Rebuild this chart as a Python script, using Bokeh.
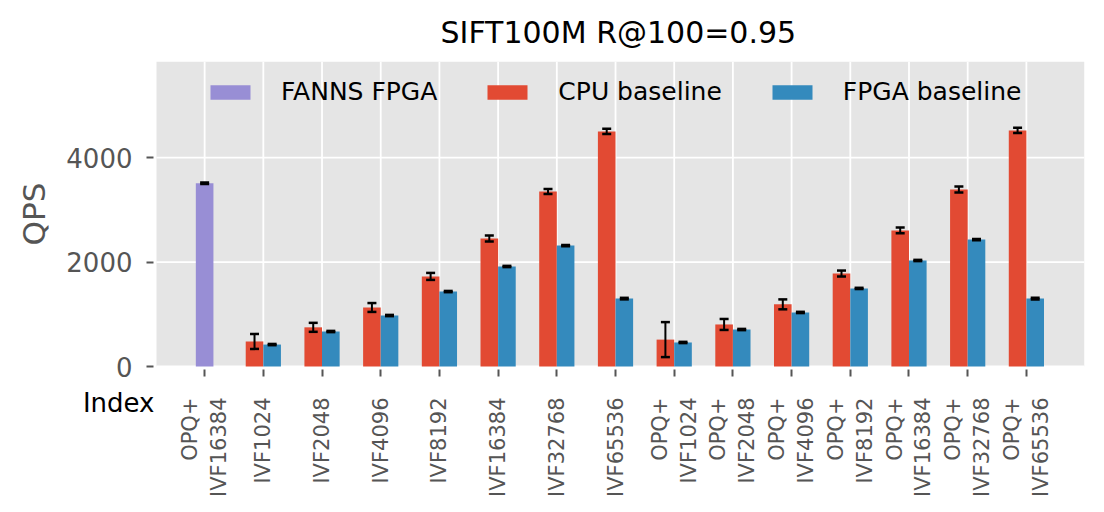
import numpy as np
from bokeh.plotting import figure
from bokeh.models import (ColumnDataSource, Range1d, FixedTicker, Whisker, TeeHead,
                          Legend, LegendItem, Label, BoxAnnotation)
from bokeh.embed import file_html
from bokeh.resources import INLINE

# ---------------- data ----------------
tick_labels = ["OPQ+\nIVF16384", "IVF1024", "IVF2048", "IVF4096", "IVF8192", "IVF16384",
               "IVF32768", "IVF65536", "OPQ+\nIVF1024", "OPQ+\nIVF2048", "OPQ+\nIVF4096",
               "OPQ+\nIVF8192", "OPQ+\nIVF16384", "OPQ+\nIVF32768", "OPQ+\nIVF65536"]

fanns_qps = [3510]
fanns_err = [15]

cpu_qps = [480, 750, 1130, 1725, 2450, 3350, 4500,
           515, 805, 1190, 1780, 2605, 3390, 4520]
cpu_err = [143, 86, 85, 67, 57, 48, 50,
           335, 105, 95, 57, 55, 57, 50]

fpga_qps = [420, 670, 976, 1435, 1915, 2316, 1300,
            460, 708, 1035, 1495, 2030, 2430, 1300]
fpga_err = [12, 12, 12, 12, 12, 12, 15,
            12, 12, 12, 12, 12, 12, 15]

y_ticks = [0, 2000, 4000]
title_text = "SIFT100M R@100=0.95"
x_title = "Index"
y_title = "QPS"
series_names = ["FANNS FPGA", "CPU baseline", "FPGA baseline"]
colors = ["#988ED5", "#E24A33", "#348ABD"]

# ---------------- layout geometry ----------------
FONT = "DejaVu Sans"
n = len(tick_labels)
W, H = 1088, 496
X_LO, X_HI = -0.82, n - 1 + 0.99      # axis limits of the plotting area
Y_LO, Y_HI = 0, 5840
PX_L, PX_R, PX_T, PX_B = 156, 1084, 61, 366   # plotting area in canvas pixels
ux = (X_HI - X_LO) / (PX_R - PX_L)
uy = (Y_HI - Y_LO) / (PX_B - PX_T)
x_range = Range1d(X_LO - PX_L * ux, X_HI)
y_range = Range1d(Y_LO - (H - PX_B) * uy, Y_HI)

p = figure(width=W, height=H, output_backend="svg", toolbar_location=None,
           x_range=x_range, y_range=y_range,
           min_border_left=0, min_border_right=W - PX_R, min_border_top=PX_T, min_border_bottom=0)
p.background_fill_color = "white"
p.border_fill_color = "white"
p.outline_line_color = None
p.xgrid.visible = False
p.ygrid.visible = False

p.title.text = title_text
p.title.align = "left"
p.title.offset = 440
p.title.text_font = FONT
p.title.text_font_size = "30px"
p.title.text_font_style = "normal"
p.title.text_color = "black"
p.title.standoff = 23

# plotting-area background and grid
p.add_layout(BoxAnnotation(left=X_LO, right=X_HI, bottom=Y_LO, top=Y_HI,
                           fill_color="#E5E5E5", fill_alpha=1, line_color=None, level="image"))
gx = list(range(n))
p.segment(x0=gx, y0=[Y_LO] * n, x1=gx, y1=[Y_HI] * n,
          line_color="white", line_width=1.8, level="underlay")
p.segment(x0=[X_LO] * len(y_ticks), y0=y_ticks, x1=[X_HI] * len(y_ticks), y1=y_ticks,
          line_color="white", line_width=1.8, level="underlay")

# axes (anchored to the plotting area)
p.xaxis.ticker = FixedTicker(ticks=list(range(n)))
p.xaxis.major_label_overrides = {i: lab for i, lab in enumerate(tick_labels)}
p.xaxis.major_label_orientation = np.pi / 2
p.xaxis.fixed_location = Y_LO
p.yaxis.ticker = FixedTicker(ticks=y_ticks)
p.yaxis.fixed_location = X_LO
for ax in (p.xaxis[0], p.yaxis[0]):
    ax.axis_line_color = None
    ax.major_tick_line_color = "#555555"
    ax.major_tick_line_width = 2
    ax.major_tick_out = 10
    ax.major_tick_in = -3
    ax.minor_tick_line_color = None
    ax.major_label_text_font = FONT
    ax.major_label_text_color = "#555555"
p.xaxis.major_label_text_font_size = "21px"
p.xaxis.major_label_standoff = 21
p.yaxis.major_label_text_font_size = "26px"
p.yaxis.major_label_standoff = 14

# bars
w = 0.3
x_fanns = [0]
x_base = list(range(1, n))
src_f = ColumnDataSource(dict(x=x_fanns, top=fanns_qps,
                              lo=[v - e for v, e in zip(fanns_qps, fanns_err)],
                              hi=[v + e for v, e in zip(fanns_qps, fanns_err)]))
src_c = ColumnDataSource(dict(x=[x - 0.15 for x in x_base], top=cpu_qps,
                              lo=[v - e for v, e in zip(cpu_qps, cpu_err)],
                              hi=[v + e for v, e in zip(cpu_qps, cpu_err)]))
src_g = ColumnDataSource(dict(x=[x + 0.15 for x in x_base], top=fpga_qps,
                              lo=[v - e for v, e in zip(fpga_qps, fpga_err)],
                              hi=[v + e for v, e in zip(fpga_qps, fpga_err)]))

r_f = p.vbar(x="x", top="top", bottom=0, width=w, source=src_f, fill_color=colors[0], line_color=None)
r_c = p.vbar(x="x", top="top", bottom=0, width=w, source=src_c, fill_color=colors[1], line_color=None)
r_g = p.vbar(x="x", top="top", bottom=0, width=w, source=src_g, fill_color=colors[2], line_color=None)

for src in (src_f, src_c, src_g):
    wh = Whisker(source=src, base="x", lower="lo", upper="hi", line_color="black", line_width=2,
                 upper_head=TeeHead(size=9, line_width=2.5, line_color="black"),
                 lower_head=TeeHead(size=9, line_width=2.5, line_color="black"),
                 level="overlay")
    p.add_layout(wh)

legend = Legend(items=[LegendItem(label=series_names[0], renderers=[r_f]),
                       LegendItem(label=series_names[1], renderers=[r_c]),
                       LegendItem(label=series_names[2], renderers=[r_g])],
                location=(197, H - 114), orientation="horizontal")
legend.background_fill_alpha = 0
legend.border_line_alpha = 0
legend.label_text_font = FONT
legend.label_text_font_size = "25px"
legend.label_text_color = "black"
legend.glyph_width = 50
legend.glyph_height = 18
legend.label_standoff = 26
legend.spacing = 45
legend.padding = 8
legend.margin = 0
p.add_layout(legend, "center")

# axis titles
p.add_layout(Label(x=154, y=402, x_units="canvas", y_units="canvas", text=x_title,
                   text_font=FONT, text_font_size="26px", text_color="black",
                   text_align="right", text_baseline="middle"))
p.add_layout(Label(x=33, y=(PX_T + PX_B) / 2, x_units="canvas", y_units="canvas", text=y_title,
                   angle=np.pi / 2, text_font=FONT, text_font_size="31px", text_color="#555555",
                   text_align="center", text_baseline="alphabetic"))

open("out.html", "w").write(file_html(p, INLINE))
